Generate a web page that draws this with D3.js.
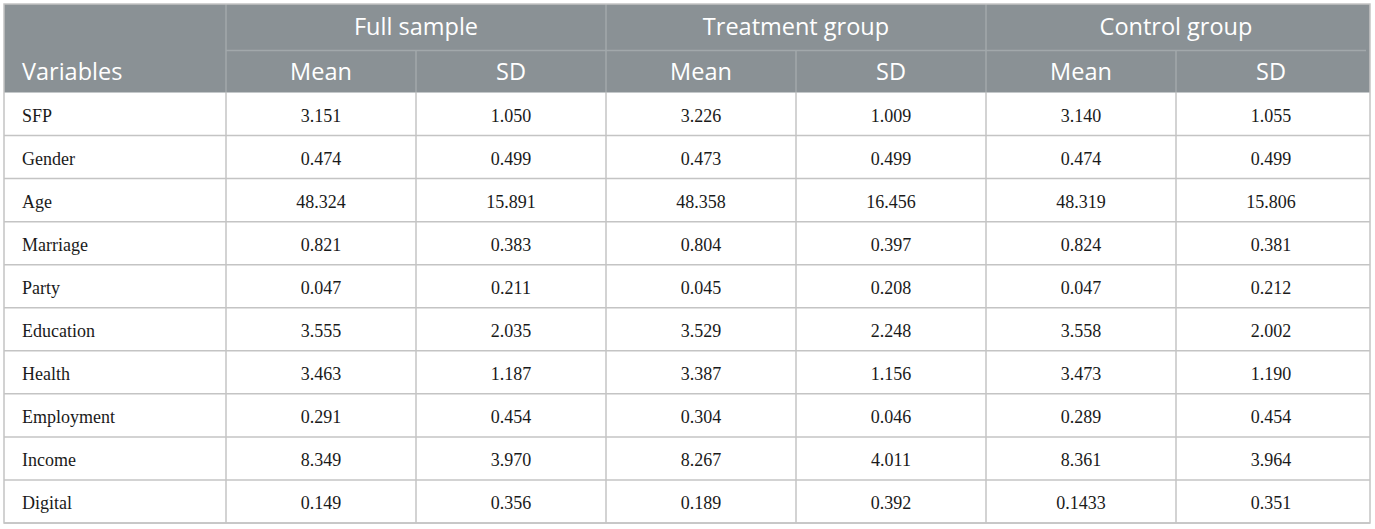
<!DOCTYPE html>
<html>
<head>
<meta charset="utf-8">
<script src="https://cdn.jsdelivr.net/npm/d3@7"></script>
<style>
  html, body { margin: 0; padding: 0; background: #fff; }
</style>
</head>
<body>
<div id="chart"></div>
<script>
// table content
const variables = ["SFP", "Gender", "Age", "Marriage", "Party", "Education", "Health", "Employment", "Income", "Digital"];
const groups = ["Full sample", "Treatment group", "Control group"];
const stats = ["Mean", "SD"];
const fullMean = ["3.151", "0.474", "48.324", "0.821", "0.047", "3.555", "3.463", "0.291", "8.349", "0.149"];
const fullSD = ["1.050", "0.499", "15.891", "0.383", "0.211", "2.035", "1.187", "0.454", "3.970", "0.356"];
const treatMean = ["3.226", "0.473", "48.358", "0.804", "0.045", "3.529", "3.387", "0.304", "8.267", "0.189"];
const treatSD = ["1.009", "0.499", "16.456", "0.397", "0.208", "2.248", "1.156", "0.046", "4.011", "0.392"];
const ctrlMean = ["3.140", "0.474", "48.319", "0.824", "0.047", "3.558", "3.473", "0.289", "8.361", "0.1433"];
const ctrlSD = ["1.055", "0.499", "15.806", "0.381", "0.212", "2.002", "1.190", "0.454", "3.964", "0.351"];

const columns = [fullMean, fullSD, treatMean, treatSD, ctrlMean, ctrlSD];

const W = 1375, H = 529;
const LEFT = 4, RIGHT = 1370, TOP = 4;
const VAR_X = 226;      // end of the "Variables" column
const COL_END = 1366;   // band range end for the numeric columns
const HEAD1 = 46.5, HEAD2 = 42;
const BOTTOM = 523;
const HEADER_FILL = "#8a9195";
const LINE = "#c4c4c4";
const HEAD_LINE = "#a2a8ab";

const svg = d3.select("#chart").append("svg")
    .attr("width", W)
    .attr("height", H);

// scales
const colX = d3.scaleBand()
    .domain(d3.range(columns.length))
    .range([VAR_X, COL_END]);
const groupX = d3.scaleBand()
    .domain(groups)
    .range([VAR_X, COL_END]);
const rowY = d3.scaleBand()
    .domain(variables)
    .range([TOP + HEAD1 + HEAD2, BOTTOM]);

// header background
svg.append("rect")
    .attr("x", LEFT)
    .attr("y", TOP)
    .attr("width", RIGHT - LEFT)
    .attr("height", HEAD1 + HEAD2)
    .attr("fill", HEADER_FILL);

const lines = svg.append("g")
    .attr("stroke", LINE)
    .attr("stroke-width", 1.5);

// horizontal row lines
lines.selectAll(".hrow")
    .data(variables)
    .join("line")
    .attr("x1", LEFT).attr("x2", RIGHT)
    .attr("y1", d => rowY(d) + rowY.bandwidth())
    .attr("y2", d => rowY(d) + rowY.bandwidth());

// line between group header and Mean/SD header
lines.append("line")
    .attr("x1", VAR_X).attr("x2", RIGHT - 4)
    .attr("y1", TOP + HEAD1).attr("y2", TOP + HEAD1)
    .attr("stroke", HEAD_LINE);

// vertical lines in header
lines.selectAll(".vhead")
    .data(d3.range(columns.length))
    .join("line")
    .attr("x1", d => colX(d)).attr("x2", d => colX(d))
    .attr("y1", d => d % 2 === 0 ? TOP : TOP + HEAD1)
    .attr("y2", TOP + HEAD1 + HEAD2)
    .attr("stroke", HEAD_LINE);

// vertical lines in body
lines.selectAll(".vbody")
    .data(d3.range(columns.length))
    .join("line")
    .attr("x1", d => colX(d)).attr("x2", d => colX(d))
    .attr("y1", TOP + HEAD1 + HEAD2)
    .attr("y2", BOTTOM);

// outer frame
svg.append("rect")
    .attr("x", LEFT)
    .attr("y", TOP)
    .attr("width", RIGHT - LEFT)
    .attr("height", BOTTOM - TOP)
    .attr("fill", "none")
    .attr("stroke", LINE)
    .attr("stroke-width", 1.5);

// header text
const headFont = "'Open Sans', sans-serif";
const headSize = 23.5;
svg.append("text")
    .attr("x", LEFT + 18)
    .attr("y", TOP + HEAD1 + HEAD2 / 2 + 8)
    .attr("font-family", headFont)
    .attr("font-size", headSize)
    .attr("fill", "#fff")
    .text("Variables");

svg.selectAll(".group")
    .data(groups)
    .join("text")
    .attr("x", d => groupX(d) + groupX.bandwidth() / 2)
    .attr("y", TOP + HEAD1 / 2 + 8)
    .attr("text-anchor", "middle")
    .attr("font-family", headFont)
    .attr("font-size", headSize)
    .attr("fill", "#fff")
    .text(d => d);

svg.selectAll(".stat")
    .data(d3.range(columns.length))
    .join("text")
    .attr("x", d => colX(d) + colX.bandwidth() / 2)
    .attr("y", TOP + HEAD1 + HEAD2 / 2 + 8)
    .attr("text-anchor", "middle")
    .attr("font-family", headFont)
    .attr("font-size", headSize)
    .attr("fill", "#fff")
    .text(d => stats[d % 2]);

// body text
const bodyFont = "'Liberation Serif', 'Times New Roman', serif";
const bodySize = 18;
svg.selectAll(".var")
    .data(variables)
    .join("text")
    .attr("x", LEFT + 18)
    .attr("y", d => rowY(d) + rowY.bandwidth() / 2 + 8)
    .attr("font-family", bodyFont)
    .attr("font-size", bodySize)
    .attr("fill", "#1a1a1a")
    .text(d => d);

columns.forEach((col, ci) => {
    svg.selectAll(".c" + ci)
        .data(col)
        .join("text")
        .attr("x", colX(ci) + colX.bandwidth() / 2)
        .attr("y", (d, i) => rowY(variables[i]) + rowY.bandwidth() / 2 + 8)
        .attr("text-anchor", "middle")
        .attr("font-family", bodyFont)
        .attr("font-size", bodySize)
        .attr("fill", "#1a1a1a")
        .text(d => d);
});
</script>
</body>
</html>
